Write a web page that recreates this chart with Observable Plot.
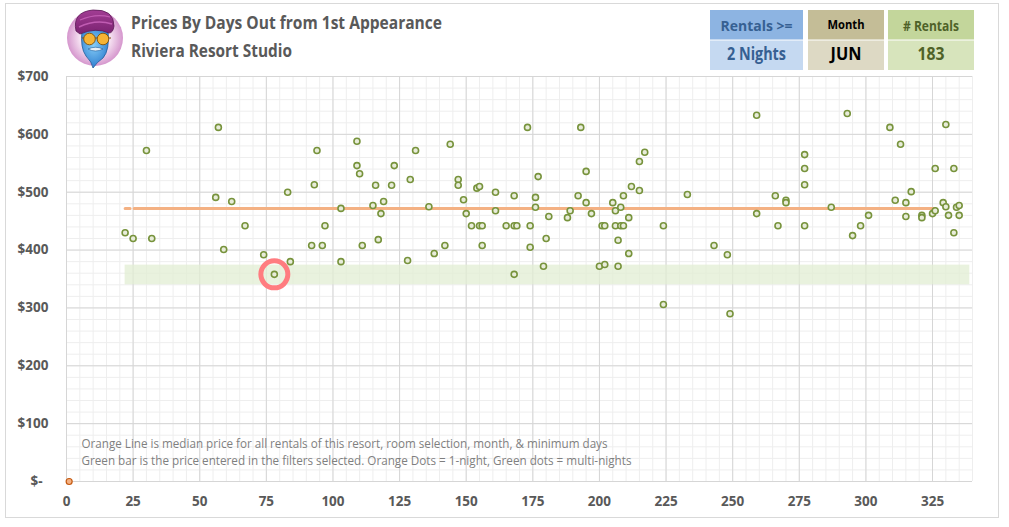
<!DOCTYPE html>
<html><head><meta charset="utf-8">
<script src="https://cdn.jsdelivr.net/npm/d3@7"></script>
<script src="https://cdn.jsdelivr.net/npm/@observablehq/plot@0.6"></script>
<style>
body{margin:0;background:#fff;}
#wrap{position:relative;width:1009px;height:527px;overflow:hidden;font-family:"Open Sans",sans-serif;}
#frame{position:absolute;left:5px;top:3px;width:994px;height:515px;border:1px solid #d9d9d9;box-sizing:border-box;}
#chart{position:absolute;left:0;top:0;}
#over{position:absolute;left:0;top:0;pointer-events:none;}
</style></head><body>
<div id="wrap"><div id="frame"></div><div id="chart"></div><svg id="over" width="1009" height="527" xmlns="http://www.w3.org/2000/svg"></svg></div>
<script>
// ---- data ----
const multiDays = [57,30,56,62,83,22,25,32,67,59,74,84,78,
  94,93,97,92,96,103,103,109,109,110,111,116,115,119,118,117,122,123,131,129,136,128,138,142,144,147,147,149,150,152,155,156,156,154,155,161,161,165,168,169,168,168,173,174,174,
  176,176,177,181,180,179,188,189,192,193,195,195,197,200,202,201,202,205,206,208,206,208,209,207,207,209,211,211,212,215,215,217,224,224,233,243,248,249,259,259,
  266,267,270,270,277,277,277,277,287,293,295,298,301,309,313,311,315,315,317,321,321,325,326,326,329,330,330,331,333,333,334,335,335];
const multiPrices = [612,572,491,484,500,430,420,420,442,401,392,380,358,
  572,513,442,408,408,472,380,588,546,532,408,512,477,484,463,418,512,546,572,522,475,382,394,408,583,522,512,487,463,442,442,442,408,507,510,500,468,442,442,442,494,358,612,442,405,
  491,474,527,458,420,372,456,468,494,612,536,482,463,372,375,442,442,482,468,474,442,442,442,417,372,494,456,394,510,503,553,569,442,306,496,408,392,290,633,463,
  494,442,486,482,565,541,513,442,474,636,425,442,460,612,583,486,482,458,501,460,456,463,468,541,482,475,617,460,541,430,474,477,460];
const oneNightDays = [1];
const oneNightPrices = [0];
const medianPrice = 472;
const medianDays = [22, 326];
const filterBand = [340, 374];
const filterDays = [22, 339];
const highlightDay = 78, highlightPrice = 358;
const xTicks = [0,25,50,75,100,125,150,175,200,225,250,275,300,325];
const yTicks = [0,100,200,300,400,500,600,700];
const xMinor = d3.range(0, 341, 5);
const yMinor = d3.range(0, 701, 20);
const title = "Prices By Days Out from 1st Appearance";
const subtitle = "Riviera Resort Studio";
const notes = ["Orange Line is median price for all rentals of this resort, room selection, month, & minimum days",
  "Green bar is the price entered in the filters selected. Orange Dots = 1-night, Green dots = multi-nights"];
const filters = [{head:"Rentals >=", val:"2 Nights"},{head:"Month", val:"JUN"},{head:"# Rentals", val:"183"}];

const pts = multiDays.map((d,i)=>({day:d, price:multiPrices[i]}));
const one = oneNightDays.map((d,i)=>({day:d, price:oneNightPrices[i]}));
const lbl = "#595959";

const chart = Plot.plot({
  width: 1009, height: 527,
  marginLeft: 66, marginRight: 37, marginTop: 76, marginBottom: 46,
  x: {domain:[0,340], axis:null},
  y: {domain:[0,700], axis:null},
  style: {fontFamily:"'Open Sans', sans-serif", background:"transparent"},
  marks: [
    Plot.ruleX(xMinor, {stroke:"#EEEEEE", strokeWidth:1}),
    Plot.ruleY(yMinor, {stroke:"#EEEEEE", strokeWidth:1}),
    Plot.ruleX(xTicks, {stroke:"#D6D6D6", strokeWidth:1}),
    Plot.ruleY(yTicks, {stroke:"#D6D6D6", strokeWidth:1}),
    Plot.rect([0], {x1:filterDays[0], x2:filterDays[1], y1:filterBand[0], y2:filterBand[1], fill:"#E2EDD3", fillOpacity:0.75}),
    Plot.line(medianDays.map(d=>({day:d, price:medianPrice})), {x:"day", y:"price", stroke:"#F4B183", strokeWidth:3, strokeDasharray:"5 4 3000"}),
    Plot.dot(pts, {x:"day", y:"price", r:3, stroke:"#77933C", strokeWidth:1.6, fill:"#E8ECDA"}),
    Plot.dot(one, {x:"day", y:"price", r:3, stroke:"#C55A11", strokeWidth:1.2, fill:"#F4B183"}),
    Plot.dot([0], {x:()=>highlightDay, y:()=>highlightPrice, r:13.5, stroke:"#FF7C80", strokeWidth:5, fill:"none"}),
    Plot.text(xTicks, {x:d=>d, y:0, text:d=>String(d), dy:20, fill:lbl, fontSize:13.5, fontWeight:"bold", lineAnchor:"middle"}),
    Plot.text(yTicks.filter(d=>d>0), {x:0, y:d=>d, text:d=>"$"+d, dx:-18, textAnchor:"end", fill:lbl, fontSize:13.5, fontWeight:"bold"}),
    Plot.text(yTicks.filter(d=>d===0), {x:0, y:d=>d, text:()=>"$-", dx:-24, textAnchor:"end", fill:lbl, fontSize:13.5, fontWeight:"bold"})
  ]
});
document.getElementById("chart").appendChild(chart);

// ---- overlay: header, filter boxes, notes ----
const ov = document.getElementById("over");
const F = "font-family:'Open Sans',sans-serif;";
let s = `<defs><radialGradient id="bg" cx="50%" cy="50%" r="50%">
<stop offset="0%" stop-color="#ffffff"/><stop offset="55%" stop-color="#f5e0f1"/><stop offset="100%" stop-color="#d596cd"/></radialGradient>
<radialGradient id="face" cx="45%" cy="40%" r="60%"><stop offset="0%" stop-color="#86cdf7"/><stop offset="100%" stop-color="#2f7fd0"/></radialGradient>
<linearGradient id="tur" x1="0" y1="0" x2="0" y2="1"><stop offset="0%" stop-color="#a23d94"/><stop offset="100%" stop-color="#7a2270"/></linearGradient></defs>`;
// logo
s += `<circle cx="95" cy="38" r="28" fill="url(#bg)"/>
<path d="M82 30 Q80 48 86 56 Q92 62 93 68 Q97 62 103 58 Q110 50 108 30 Z" fill="url(#face)" stroke="#1f5c99" stroke-width="0.8"/>
<path d="M76 31 Q72 12 93 10 Q114 9 114 26 Q113 33 109 33 Q96 27 80 34 Z" fill="url(#tur)" stroke="#5b1a55" stroke-width="0.8"/>
<path d="M79 27 Q96 19 112 24" stroke="#c05cb2" stroke-width="1.5" fill="none"/>
<path d="M80 20 Q96 13 110 17" stroke="#c05cb2" stroke-width="1.2" fill="none"/>
<line x1="82" y1="38" x2="111" y2="38" stroke="#7a4a10" stroke-width="1"/>
<circle cx="89.5" cy="39" r="5.8" fill="#F6B334" stroke="#8a5a10" stroke-width="1"/>
<circle cx="103" cy="39" r="5.8" fill="#F6B334" stroke="#8a5a10" stroke-width="1"/>
<path d="M88 49 Q95.5 45.5 103 49 Q95.5 53 88 49 Z" fill="#e8f0f8" stroke="#1f5c99" stroke-width="0.6"/>`;
s += `<text x="131" y="28.5" textLength="311" lengthAdjust="spacingAndGlyphs" style="${F}font-size:17px;font-weight:700;fill:${lbl}">${title}</text>`;
s += `<text x="131" y="57" textLength="161" lengthAdjust="spacingAndGlyphs" style="${F}font-size:17px;font-weight:700;fill:${lbl}">${subtitle}</text>`;
// filter boxes
const boxes = [
  {x:710, w:93, hc:"#8DB4E2", vc:"#C5D9F1", ht:"#366092", vt:"#366092", hw:72, vw:59, hs:15, vs:17},
  {x:808, w:76, hc:"#C4BD97", vc:"#DDD9C4", ht:"#000000", vt:"#000000", hw:37, vw:31, hs:13, vs:17},
  {x:888, w:86, hc:"#C3D69B", vc:"#D7E4BC", ht:"#4F6228", vt:"#4F6228", hw:56, vw:27, hs:15, vs:17}
];
boxes.forEach((b,i)=>{
  const f = filters[i];
  s += `<rect x="${b.x}" y="10" width="${b.w}" height="29.5" fill="${b.hc}"/>`;
  s += `<rect x="${b.x}" y="40.5" width="${b.w}" height="29.5" fill="${b.vc}"/>`;
  s += `<text x="${b.x+b.w/2}" y="${i===1?28.5:30.7}" text-anchor="middle" textLength="${b.hw}" lengthAdjust="spacingAndGlyphs" style="${F}font-size:${b.hs}px;font-weight:700;fill:${b.ht}">${f.head.replace(">","&gt;")}</text>`;
  s += `<text x="${b.x+b.w/2}" y="59.5" text-anchor="middle" textLength="${b.vw}" lengthAdjust="spacingAndGlyphs" style="${F}font-size:${b.vs}px;font-weight:700;fill:${b.vt}">${f.val}</text>`;
});
// notes
s += `<text x="81.5" y="448.3" textLength="526" lengthAdjust="spacingAndGlyphs" style="${F}font-size:12px;fill:#7F7F7F">${notes[0].replace("&","&amp;")}</text>`;
s += `<text x="81.5" y="465" textLength="550" lengthAdjust="spacingAndGlyphs" style="${F}font-size:12px;fill:#7F7F7F">${notes[1]}</text>`;
ov.innerHTML = s;
</script>
</body></html>
